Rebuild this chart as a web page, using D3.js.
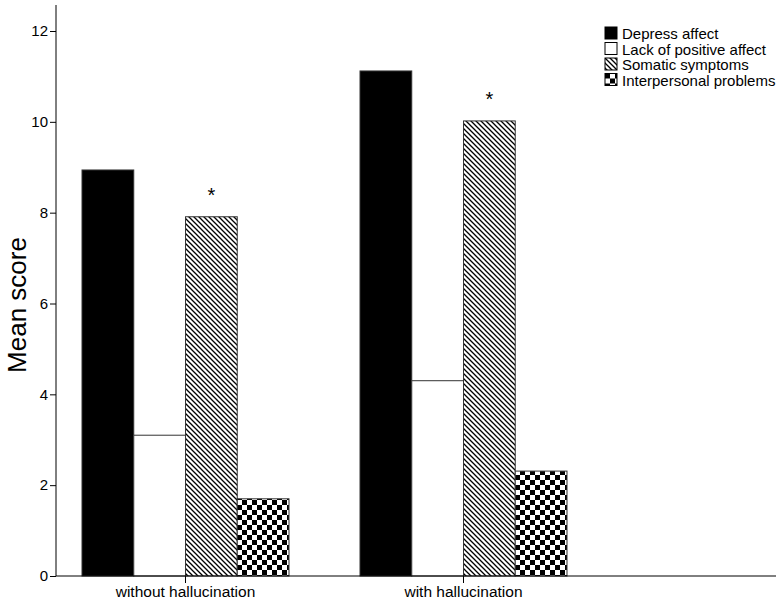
<!DOCTYPE html>
<html lang="en">
<head>
<meta charset="UTF-8">
<title>Mean score by hallucination</title>
<style>
  body { margin: 0; background: #fff; }
  text { font-family: "Liberation Sans", Arial, sans-serif; }
</style>
</head>
<body>
<script src="https://d3js.org/d3.v7.min.js"></script>
<div id="container"></div>
<script>
    // data
    var groups = ['without hallucination', 'with hallucination'];
    var series = ['Depress affect', 'Lack of positive affect', 'Somatic symptoms', 'Interpersonal problems'];
    var depress = [8.94, 11.12];
    var lackPositive = [3.10, 4.30];
    var somatic = [7.91, 10.02];
    var interpersonal = [1.70, 2.31];
    var starred = ['Somatic symptoms'];
    var yTicks = [0, 2, 4, 6, 8, 10, 12];

    var values = [depress, lackPositive, somatic, interpersonal];
    var fills = ['#000', '#fff', 'url(#hatch)', 'url(#checker)'];

    var width = 778, height = 601;
    var svg = d3.select('#container').append('svg').attr('width', width).attr('height', height);

    var defs = svg.append('defs');
    var hatch = defs.append('pattern').attr('id', 'hatch').attr('patternUnits', 'userSpaceOnUse')
        .attr('width', 5).attr('height', 5);
    hatch.append('rect').attr('width', 5).attr('height', 5).attr('fill', '#fff');
    hatch.append('path').attr('d', 'M-1,-1 L6,6 M-1,4 L1,6 M4,-1 L6,1')
        .attr('stroke', '#000').attr('stroke-width', 1.3);

    var checker = defs.append('pattern').attr('id', 'checker').attr('patternUnits', 'userSpaceOnUse')
        .attr('width', 10).attr('height', 10);
    checker.append('rect').attr('width', 10).attr('height', 10).attr('fill', '#fff');
    checker.append('rect').attr('width', 5).attr('height', 5).attr('fill', '#000');
    checker.append('rect').attr('x', 5).attr('y', 5).attr('width', 5).attr('height', 5).attr('fill', '#000');

    var axisLeft = 56, axisRight = 776, axisBottom = 576;

    var y = d3.scaleLinear().domain([0, 12]).range([axisBottom, 31]);
    var x0 = d3.scaleBand().domain(groups).range([46.5, 602.5]).paddingInner(0.2554).paddingOuter(0.1277);
    var x1 = d3.scaleBand().domain(series).range([0, x0.bandwidth()]);

    var bars = svg.append('g').attr('id', 'barGroup');
    groups.forEach(function(g, gi) {
        var grp = bars.append('g').attr('transform', 'translate(' + x0(g) + ',0)');
        grp.selectAll('rect').data(series).enter().append('rect')
            .attr('x', function(s) { return x1(s); })
            .attr('y', function(s, si) { return y(values[si][gi]); })
            .attr('width', x1.bandwidth())
            .attr('height', function(s, si) { return axisBottom - y(values[si][gi]); })
            .attr('fill', function(s, si) { return fills[si]; })
            .attr('stroke', '#333').attr('stroke-width', 1);
        starred.forEach(function(s) {
            var si = series.indexOf(s);
            grp.append('text')
                .attr('x', x1(s) + x1.bandwidth() / 2)
                .attr('y', y(values[si][gi]) - 15)
                .attr('text-anchor', 'middle')
                .attr('font-size', 20)
                .text('*');
        });
    });

    // y axis
    var yAxisGroup = svg.append('g').attr('transform', 'translate(' + axisLeft + ',0)');
    yAxisGroup.call(d3.axisLeft(y).tickValues(yTicks).tickSize(6).tickPadding(2));
    yAxisGroup.select('.domain').remove();
    yAxisGroup.append('line').attr('x1', 0).attr('x2', 0).attr('y1', 5).attr('y2', axisBottom)
        .attr('stroke', '#000');
    yAxisGroup.selectAll('.tick text').attr('font-size', 15).attr('font-family', '"Liberation Sans", Arial, sans-serif');

    // x axis
    var xAxisGroup = svg.append('g').attr('transform', 'translate(0,' + axisBottom + ')');
    xAxisGroup.call(d3.axisBottom(x0).tickSize(7).tickPadding(3));
    xAxisGroup.select('.domain').remove();
    xAxisGroup.append('line').attr('x1', axisLeft).attr('x2', axisRight).attr('stroke', '#000');
    xAxisGroup.selectAll('.tick text').attr('font-size', 15.5).attr('font-family', '"Liberation Sans", Arial, sans-serif');

    svg.append('text')
        .attr('transform', 'translate(26,' + 305 + ') rotate(-90)')
        .attr('text-anchor', 'middle')
        .attr('font-size', 26)
        .text('Mean score');

    // legend
    var legend = svg.append('g').attr('transform', 'translate(605,27)');
    var items = legend.selectAll('g').data(series).enter().append('g')
        .attr('transform', function(d, i) { return 'translate(0,' + i * 15.5 + ')'; });
    items.append('rect').attr('width', 12).attr('height', 12)
        .attr('fill', function(d, i) { return fills[i]; })
        .attr('stroke', '#000').attr('stroke-width', 1);
    items.append('text').attr('x', 17).attr('y', 12).attr('font-size', 15)
        .text(function(d) { return d; });
</script>
</body>
</html>
